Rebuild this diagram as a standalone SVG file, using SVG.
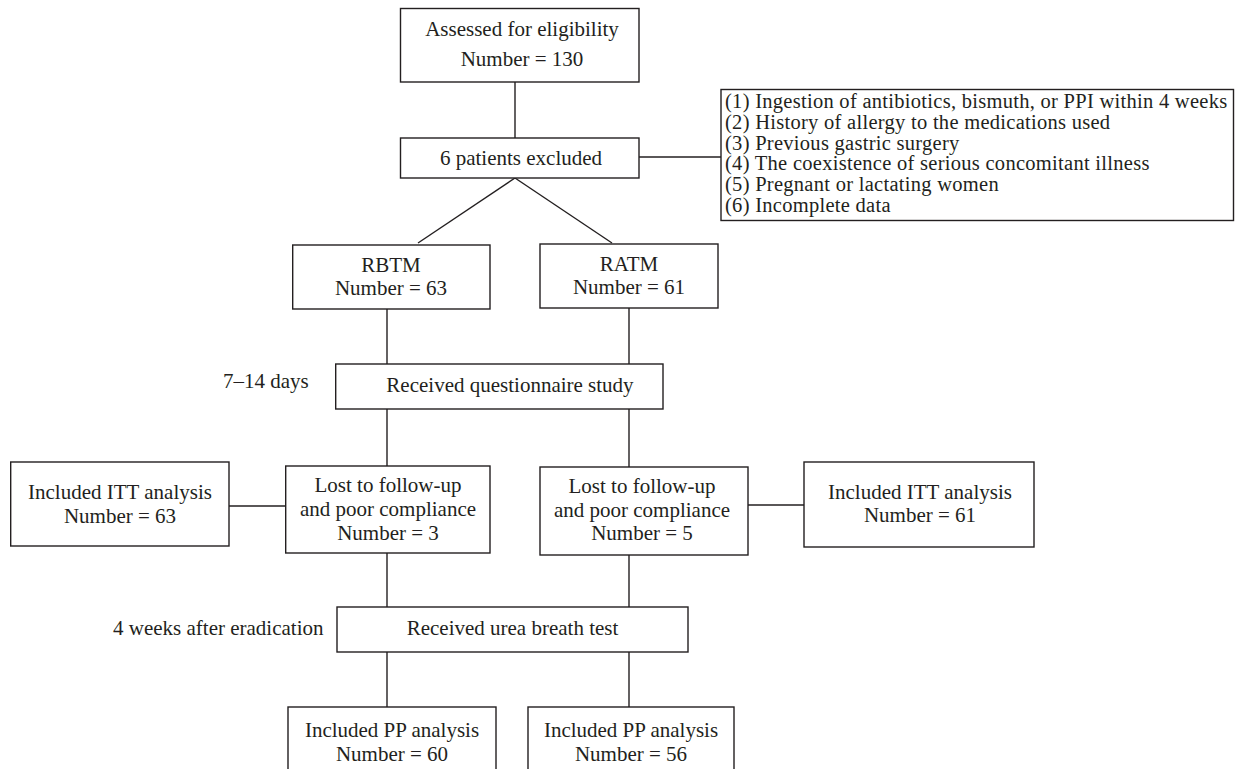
<svg xmlns="http://www.w3.org/2000/svg" width="1237" height="769" viewBox="0 0 1237 769">
<style>
rect.box{fill:#fff;stroke:#231f20;stroke-width:1.4}
line{stroke:#231f20;stroke-width:1.4}
text{font-family:"Liberation Serif","Times New Roman",serif;font-size:21px;fill:#231f20}
.c{text-anchor:middle}
.l{font-size:20.5px;letter-spacing:0.28px}
</style>
<rect width="1237" height="769" fill="#fff"/>
<g id="connectors">
<line x1="515" y1="82" x2="515" y2="138"/>
<line x1="639" y1="157" x2="721" y2="157"/>
<line x1="515" y1="178" x2="418" y2="243"/>
<line x1="515" y1="178" x2="612" y2="243"/>
<line x1="387" y1="309" x2="387" y2="364"/>
<line x1="629" y1="308" x2="629" y2="364"/>
<line x1="387" y1="409" x2="387" y2="466"/>
<line x1="629" y1="409" x2="629" y2="467"/>
<line x1="229" y1="506" x2="286" y2="506"/>
<line x1="748" y1="505" x2="804" y2="505"/>
<line x1="387" y1="553" x2="387" y2="607"/>
<line x1="629" y1="555" x2="629" y2="607"/>
<line x1="387" y1="652" x2="387" y2="707"/>
<line x1="629" y1="652" x2="629" y2="707"/>
</g>
<g id="assessed">
<rect class="box" x="400.5" y="8.5" width="238.5" height="73.5"/>
<text class="c" x="522" y="36">Assessed for eligibility</text>
<text class="c" x="522" y="66">Number = 130</text>
</g>
<g id="excluded">
<rect class="box" x="400.5" y="138" width="238.5" height="40"/>
<text class="c" x="521" y="165">6 patients excluded</text>
</g>
<g id="reasons">
<rect class="box" x="721" y="89.5" width="512.5" height="131"/>
<text class="l" x="725" y="108">(1) Ingestion of antibiotics, bismuth, or PPI within 4 weeks</text>
<text class="l" x="725" y="128.8">(2) History of allergy to the medications used</text>
<text class="l" x="725" y="149.6">(3) Previous gastric surgery</text>
<text class="l" x="725" y="170.4">(4) The coexistence of serious concomitant illness</text>
<text class="l" x="725" y="191.2">(5) Pregnant or lactating women</text>
<text class="l" x="725" y="212">(6) Incomplete data</text>
</g>
<g id="rbtm">
<rect class="box" x="292.7" y="245" width="197.3" height="64"/>
<text class="c" x="391" y="272">RBTM</text>
<text class="c" x="391" y="295">Number = 63</text>
</g>
<g id="ratm">
<rect class="box" x="540" y="244" width="178" height="64"/>
<text class="c" x="629" y="271">RATM</text>
<text class="c" x="629" y="294">Number = 61</text>
</g>
<g id="days-label">
<text x="223" y="388">7–14 days</text>
</g>
<g id="questionnaire">
<rect class="box" x="335.7" y="364" width="327.3" height="45"/>
<text class="c" x="510" y="392">Received questionnaire study</text>
</g>
<g id="itt-left">
<rect class="box" x="10.7" y="462" width="218.3" height="84"/>
<text class="c" x="120" y="499">Included ITT analysis</text>
<text class="c" x="120" y="523">Number = 63</text>
</g>
<g id="lost-left">
<rect class="box" x="285.7" y="466" width="204.3" height="87"/>
<text class="c" x="388" y="492">Lost to follow-up</text>
<text class="c" x="388" y="516">and poor compliance</text>
<text class="c" x="388" y="540">Number = 3</text>
</g>
<g id="lost-right">
<rect class="box" x="540" y="467" width="208" height="88"/>
<text class="c" x="642" y="493">Lost to follow-up</text>
<text class="c" x="642" y="517">and poor compliance</text>
<text class="c" x="642" y="540">Number = 5</text>
</g>
<g id="itt-right">
<rect class="box" x="804" y="462" width="230" height="85"/>
<text class="c" x="920" y="499">Included ITT analysis</text>
<text class="c" x="920" y="522">Number = 61</text>
</g>
<g id="weeks-label">
<text x="113" y="635">4 weeks after eradication</text>
</g>
<g id="urea">
<rect class="box" x="337" y="607" width="351" height="45"/>
<text class="c" x="512.5" y="635">Received urea breath test</text>
</g>
<g id="pp-left">
<rect class="box" x="288" y="707" width="208" height="80"/>
<text class="c" x="392" y="737">Included PP analysis</text>
<text class="c" x="392" y="761">Number = 60</text>
</g>
<g id="pp-right">
<rect class="box" x="528" y="707" width="206" height="80"/>
<text class="c" x="631" y="737">Included PP analysis</text>
<text class="c" x="631" y="761">Number = 56</text>
</g>
</svg>
